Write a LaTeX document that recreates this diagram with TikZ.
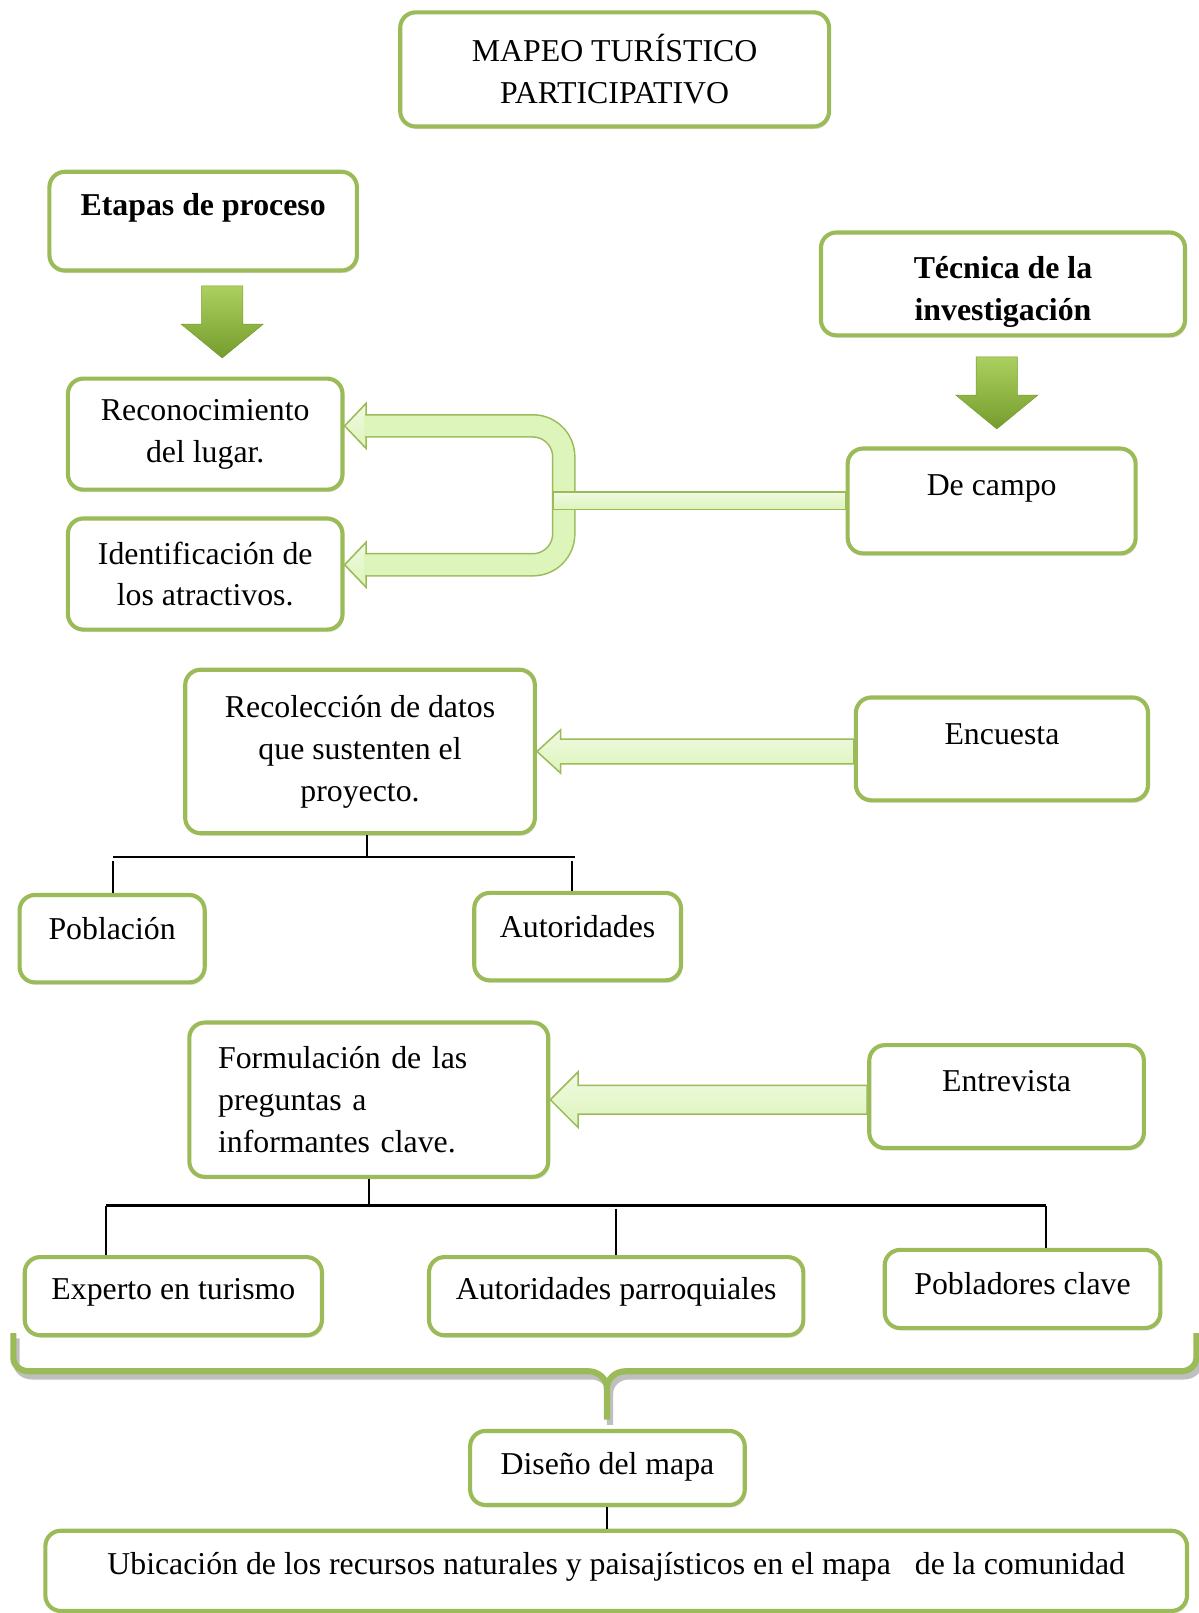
\documentclass[tikz,border=0pt]{standalone}
\usepackage{fontspec}
\setmainfont{Liberation Serif}
\usetikzlibrary{positioning,calc,shadows}

\definecolor{verde}{RGB}{155,187,89}
\definecolor{verdeclaro}{RGB}{221,244,186}
\definecolor{verdeluz}{RGB}{240,250,226}
\definecolor{verdemedio}{RGB}{172,208,96}
\definecolor{verdeoscuro}{RGB}{116,156,44}
\newcommand{\letra}{\fontsize{17.6pt}{23.2pt}\selectfont}

\begin{document}
\begin{tikzpicture}[x=0.02cm, y=-0.02cm,
	caja/.style 2 args={draw=verde, line width=0.08cm, rounded corners=0.3cm, fill=white,
		minimum width=#1, minimum height=#2, align=center, inner sep=0pt, font=\letra,
		drop shadow={shadow xshift=0.03cm, shadow yshift=-0.05cm, opacity=0.2}},
	linea/.style={text height=0.44cm, text depth=#1},
	negrita/.style={font=\letra\bfseries},
	rama/.style={draw=black, line width=0.04cm},
	bloque/.style={draw=verde, line width=0.03cm, line join=miter, top color=verdeluz, bottom color=verdeclaro},
	bajada/.style={top color=verdemedio, bottom color=verdeoscuro, draw=verdeoscuro, line width=0.01cm},
	llave/.style={draw=verde, line width=0.12cm}]
	\useasboundingbox (0,0) rectangle (1165,1568);

	% cajas
	\node[caja={8.34cm}{2.22cm}] (titulo) at (597.5,67.5) {MAPEO TURÍSTICO\\PARTICIPATIVO};
	\node[caja={5.98cm}{1.92cm}, negrita, linea=0.66cm] (etapas) at (197.5,215) {Etapas de proceso};
	\node[caja={7.08cm}{2.00cm}, negrita] (tecnica) at (975,276) {\rule{0pt}{0.75cm}Técnica de la\\investigación};
	\node[caja={5.34cm}{2.16cm}] (reconocimiento) at (199.5,422) {Reconocimiento\\del lugar.};
	\node[caja={5.34cm}{2.16cm}] (identificacion) at (199.5,558) {Identificación de\\los atractivos.};
	\node[caja={5.60cm}{2.04cm}, linea=0.66cm] (decampo) at (964,487) {De campo};
	\node[caja={6.80cm}{3.18cm}] (recoleccion) at (350,730.5) {Recolección de datos\\que sustenten el\\proyecto.};
	\node[caja={5.68cm}{2.00cm}, linea=0.62cm] (encuesta) at (974,728) {Encuesta};
	\node[caja={3.60cm}{1.70cm}, linea=0.42cm] (poblacion) at (109,912.5) {Población};
	\node[caja={4.02cm}{1.70cm}, linea=0.42cm] (autoridades) at (561.5,910.5) {Autoridades};
	\node[caja={6.98cm}{3.00cm}, align=left, text width=5.86cm] (formulacion) at (358.5,1069) {Formulación de las\\preguntas a\\informantes clave.};
	\node[caja={5.34cm}{2.00cm}, linea=0.62cm] (entrevista) at (978.5,1066) {Entrevista};
	\node[caja={5.78cm}{1.52cm}, linea=0.30cm] (experto) at (168.5,1260) {Experto en turismo};
	\node[caja={7.28cm}{1.52cm}, linea=0.30cm] (autparr) at (599,1260) {Autoridades parroquiales};
	\node[caja={5.36cm}{1.52cm}, linea=0.22cm] (pobladores) at (994,1253) {Pobladores clave};
	\node[caja={5.34cm}{1.44cm}, linea=0.18cm] (diseno) at (590.5,1427) {Diseño del mapa};
	\node[caja={22.2cm}{1.56cm}, linea=0.30cm] (ubicacion) at (599,1527) {Ubicación de los recursos naturales y paisajísticos en el mapa~~~de la comunidad};

	% flechas hacia abajo
	\coordinate (f1) at ([xshift=0.37cm,yshift=-0.26cm]etapas.south);
	\coordinate (f2) at ([xshift=-0.12cm,yshift=-0.38cm]tecnica.south);
	\draw[bajada] ([xshift=-0.4cm]f1) -- ++(40,0) -- ++(0,37) -- ++(20,0) -- ++(-40,33) -- ++(-40,-33) -- ++(20,0) -- cycle;
	\draw[bajada] ([xshift=-0.4cm]f2) -- ++(40,0) -- ++(0,37) -- ++(20,0) -- ++(-40,33) -- ++(-40,-33) -- ++(20,0) -- cycle;

	% flecha doble de campo
	\coordinate (p1) at ([yshift=0.16cm]reconocimiento.east);
	\coordinate (p2) at ([yshift=0.18cm]identificacion.east);
	\coordinate (junta) at (548,487);
	\draw[bloque] (p1) -- ++(21,-22) -- ++(0,44) -- cycle;
	\draw[bloque] (p2) -- ++(21,-22) -- ++(0,44) -- cycle;
	\draw[verde, line width=0.46cm, rounded corners=0.6cm] ([xshift=0.40cm]p1) -- (p1 -| junta) -- (p2 -| junta) -- ([xshift=0.40cm]p2);
	\draw[verdeclaro, line width=0.40cm, rounded corners=0.6cm] ([xshift=0.38cm]p1) -- (p1 -| junta) -- (p2 -| junta) -- ([xshift=0.38cm]p2);
	\draw[bloque] ([xshift=-0.2cm,yshift=0.17cm]junta) rectangle ([yshift=-0.17cm]decampo.west);

	% encuesta y entrevista
	\draw[bloque] (recoleccion.east) -- ++(23,-21) -- ++(0,9) -- ++(285,0) -- ++(0,24) -- ++(-285,0) -- ++(0,9) -- cycle;
	\draw[bloque] (formulacion.east) -- ++(27,-27) -- ++(0,13) -- ++(281,0) -- ++(0,28) -- ++(-281,0) -- ++(0,13) -- cycle;

	% ramas
	\coordinate (b1l) at (110,833);
	\coordinate (b1r) at (559,833);
	\draw[rama] ([xshift=0.14cm]recoleccion.south) -- ([xshift=0.14cm]recoleccion.south |- b1l);
	\draw[rama] (b1l) -- (b1r);
	\draw[rama] ([yshift=-0.08cm]b1l) -- (b1l |- poblacion.north);
	\draw[rama] ([xshift=-0.06cm,yshift=-0.08cm]b1r) -- ([xshift=-0.06cm]b1r |- autoridades.north);

	\coordinate (b2l) at (103,1172);
	\coordinate (b2r) at (1017,1172);
	\draw[rama] (formulacion.south) -- (formulacion.south |- b2l);
	\draw[rama, line width=0.06cm] (b2l) -- (b2r);
	\draw[rama] (b2l) -- (b2l |- experto.north);
	\draw[rama] ([yshift=-0.06cm]b2l -| autparr.north) -- (autparr.north);
	\draw[rama] (b2r) -- (b2r |- pobladores.north);

	% llave
	\begin{scope}[shift={(3,5)}]
		\draw[llave, draw=black!25] (13,1296) -- (13,1320) to[out=-90,in=180] (28,1333) -- (572,1333) to[out=0,in=90] (590,1350) -- (590,1380);
		\draw[llave, draw=black!25] (1163,1296) -- (1163,1320) to[out=-90,in=0] (1148,1333) -- (608,1333) to[out=180,in=90] (590,1350);
	\end{scope}
	\draw[llave] (13,1296) -- (13,1320) to[out=-90,in=180] (28,1333) -- (572,1333) to[out=0,in=90] (590,1350) -- (590,1380);
	\draw[llave] (1163,1296) -- (1163,1320) to[out=-90,in=0] (1148,1333) -- (608,1333) to[out=180,in=90] (590,1350);

	\draw[rama] (diseno.south) -- (diseno.south |- ubicacion.north);
\end{tikzpicture}
\end{document}
